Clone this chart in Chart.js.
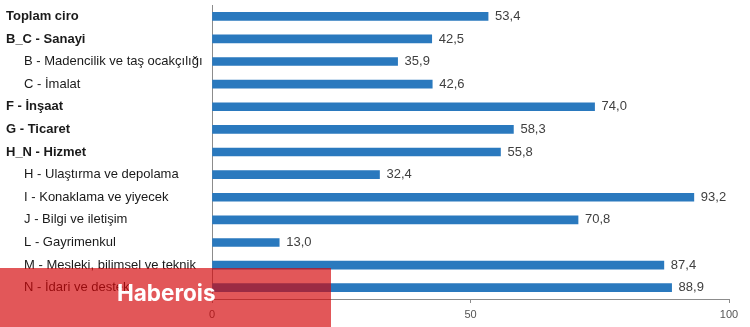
<!DOCTYPE html>
<html>
<head>
<meta charset="utf-8">
<script src="https://cdn.jsdelivr.net/npm/chart.js@4/dist/chart.umd.min.js"></script>
<style>
  html, body { margin: 0; padding: 0; background: #fff; }
  #wrap { position: relative; width: 750px; height: 327px; }
  #overlay {
    position: absolute; left: 0; top: 268px; width: 331px; height: 59px;
    background: rgba(212, 4, 8, 0.67);
  }
  #brand {
    position: absolute; left: 117px; top: 282px;
    font-family: Inter, Roboto, "Liberation Sans", sans-serif; font-weight: bold;
    font-size: 22.5px; color: #fff; line-height: 22px; white-space: nowrap;
  }
</style>
</head>
<body>
<div id="wrap">
  <canvas id="c" width="750" height="327"></canvas>
  <div id="overlay"></div>
  <div id="brand">Haberois</div>
</div>
<script>
const categories = [
  "Toplam ciro",
  "B_C - Sanayi",
  "B - Madencilik ve taş ocakçılığı",
  "C - İmalat",
  "F - İnşaat",
  "G - Ticaret",
  "H_N - Hizmet",
  "H - Ulaştırma ve depolama",
  "I - Konaklama ve yiyecek",
  "J - Bilgi ve iletişim",
  "L - Gayrimenkul",
  "M - Mesleki, bilimsel ve teknik",
  "N - İdari ve destek"
];
const levels = [0, 0, 1, 1, 0, 0, 0, 1, 1, 1, 1, 1, 1];
const values = [53.4, 42.5, 35.9, 42.6, 74.0, 58.3, 55.8, 32.4, 93.2, 70.8, 13.0, 87.4, 88.9];
const xTicks = [0, 50, 100];

const FONT = "'Liberation Sans', Arial, sans-serif";

const valueLabels = {
  id: 'valueLabels',
  afterDatasetsDraw(chart) {
    const ctx = chart.ctx;
    const meta = chart.getDatasetMeta(0);
    ctx.save();
    ctx.font = "13px " + FONT;
    ctx.fillStyle = '#404040';
    ctx.textAlign = 'left';
    ctx.textBaseline = 'middle';
    meta.data.forEach((bar, i) => {
      ctx.fillText(values[i].toFixed(1).replace('.', ','), bar.x + 7, bar.y);
    });
    ctx.restore();
  }
};

new Chart(document.getElementById('c'), {
  type: 'bar',
  data: {
    labels: categories.map((c, i) => (levels[i] ? '     ' : '') + c),
    datasets: [{
      data: values,
      backgroundColor: '#2a79be',
      barThickness: 8
    }]
  },
  options: {
    indexAxis: 'y',
    responsive: false,
    animation: false,
    layout: { padding: { left: 6, right: 21, top: 5, bottom: 0 } },
    plugins: { legend: { display: false }, tooltip: { enabled: false } },
    scales: {
      y: {
        grid: { display: false },
        border: { display: true, color: '#8c8c8c' },
        ticks: {
          crossAlign: 'far',
          color: '#1a1a1a',
          font: (ctx) => ({ family: FONT, size: 13, weight: levels[ctx.index] === 0 ? 'bold' : 'normal' })
        },
        afterFit: (s) => { s.width = 206; s.paddingTop = 0; s.paddingBottom = 0; }
      },
      x: {
        min: 0, max: 100,
        afterBuildTicks: (s) => { s.ticks = xTicks.map(v => ({ value: v })); },
        grid: { drawOnChartArea: false, drawTicks: true, tickLength: 4, color: '#8c8c8c' },
        border: { display: true, color: '#8c8c8c' },
        ticks: { color: '#555', padding: 5, font: { family: FONT, size: 11 } },
        afterFit: (s) => { s.height = 28; }
      }
    }
  },
  plugins: [valueLabels]
});
</script>
</body>
</html>
